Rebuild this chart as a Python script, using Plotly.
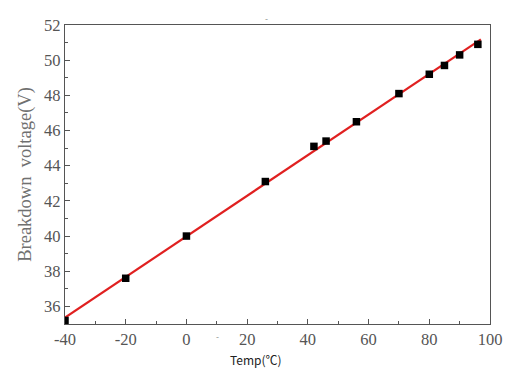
import numpy as np
import plotly.graph_objects as go

temp = [-40, -20, 0, 26, 42, 46, 56, 70, 80, 85, 90, 96]
voltage = [35.2, 37.6, 40.0, 43.1, 45.1, 45.4, 46.5, 48.1, 49.2, 49.7, 50.3, 50.9]
x_ticks = [-40, -20, 0, 20, 40, 60, 80, 100]
x_tick_labels = ["-40", "-20", "0", "20", "40", "60", "80", "100"]
y_ticks = [36, 38, 40, 42, 44, 46, 48, 50, 52]

slope, intercept = np.polyfit(temp, voltage, 1)
fit_x = [-40, 97]
fit_y = [slope * v + intercept for v in fit_x]

fig = go.Figure()
fig.add_trace(go.Scatter(x=fit_x, y=fit_y, mode="lines",
                         line=dict(color="#e02020", width=2.2), showlegend=False))
fig.add_trace(go.Scatter(x=temp, y=voltage, mode="markers",
                         marker=dict(symbol="square", size=7.5, color="black"),
                         showlegend=False, cliponaxis=True))

axis_common = dict(showgrid=False, zeroline=False, showline=True, linecolor="#555555",
                   linewidth=1.3, mirror=True, ticks="inside", ticklen=5, tickcolor="#555555",
                   automargin=False,
                   tickfont=dict(family="Liberation Serif", size=16.5, color="#555555"))

fig.update_xaxes(range=[-40, 100], tickvals=x_ticks, ticktext=x_tick_labels, **axis_common,
                 minor=dict(ticks="inside", dtick=10, ticklen=3, tickcolor="#555555"))
fig.update_yaxes(range=[35, 52], tickvals=y_ticks, **axis_common,
                 minor=dict(ticks="inside", dtick=1, ticklen=3, tickcolor="#555555"),
                 title=dict(text="Breakdown  voltage(V)",
                            font=dict(family="Liberation Serif", size=18.5, color="#707070"),
                            standoff=7))

fig.add_annotation(text="Temp(℃)", x=(256 - 65) / 425, y=-(370 - 324) / 299,
                   xref="paper", yref="paper", showarrow=False,
                   font=dict(family="Noto Sans CJK SC", size=12, color="#222222"))
fig.add_annotation(text="-", x=(266 - 65) / 425, y=(324 - 12) / 299,
                   xref="paper", yref="paper", showarrow=False,
                   font=dict(family="Liberation Sans", size=9, color="#999999"))
fig.add_annotation(text="-", x=(217 - 65) / 425, y=-(344 - 324) / 299,
                   xref="paper", yref="paper", showarrow=False,
                   font=dict(family="Liberation Sans", size=9, color="#999999"))

# page body has an 8px default margin; compensate so plot area sits where the reference has it
fig.update_layout(width=504, height=372, margin=dict(l=57, r=22, t=17, b=56),
                  plot_bgcolor="white", paper_bgcolor="white")

fig.write_html("out.html")
